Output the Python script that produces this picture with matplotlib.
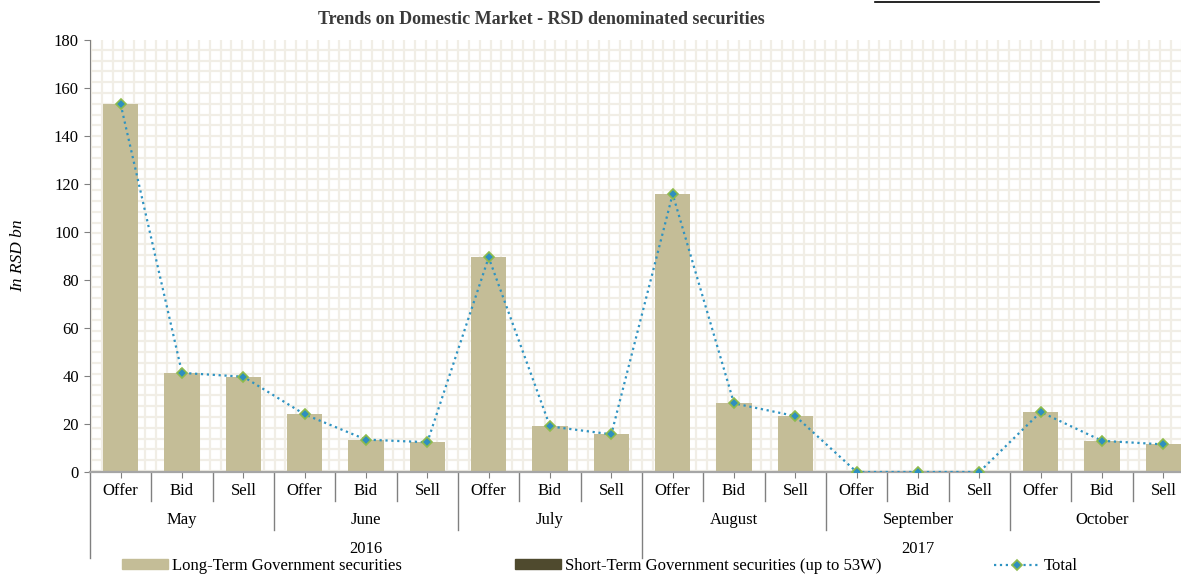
import numpy as np
import matplotlib
matplotlib.use('Agg')
import matplotlib.pyplot as plt
from matplotlib.lines import Line2D
from matplotlib.patches import Patch

plt.rcParams['font.family'] = ['Liberation Serif', 'DejaVu Serif']

kinds = ['Offer', 'Bid', 'Sell'] * 6
months = ['May', 'June', 'July', 'August', 'September', 'October']
years = ['2016', '2017']
long_term = [153.2, 41.3, 39.7, 24.0, 13.5, 12.4, 89.4, 19.0, 15.7,
             115.8, 28.6, 23.3, 0, 0, 0, 25.0, 13.0, 11.5]
short_term = [0] * 18
total = [a + b for a, b in zip(long_term, short_term)]

W, H = 1181, 575
fig = plt.figure(figsize=(W / 100, H / 100), dpi=100)
# axes runs a bit past the right edge, like the original
ax = fig.add_axes([90 / W, (H - 472) / H, 1104 / W, 432 / H])

# light checkered background
ax_w, ax_h = 1104, 432
step = 10.8
for px in np.arange(1, ax_w, step):
    ax.plot([px / ax_w] * 2, [0, 1], color='#F1EEE6', lw=1.6,
            transform=ax.transAxes, zorder=0)
for py in np.arange(1, ax_h, step):
    ax.plot([0, 1], [py / ax_h] * 2, color='#F1EEE6', lw=1.6,
            transform=ax.transAxes, zorder=0)

x = np.arange(len(kinds))
ax.bar(x, long_term, width=0.58, color='#C4BD97', zorder=2)
ax.bar(x, short_term, width=0.58, bottom=long_term, color='#4F4A2E', lw=0, zorder=2)
ax.plot(x, total, ls=':', lw=1.6, color='#2E93C2', marker='D', ms=5.5,
        mfc='#2E8FC0', mec='#8DBB4C', mew=1.2, zorder=3)

ax.set_xlim(-0.5, len(kinds) - 0.5)
ax.set_ylim(0, 180)
ax.set_yticks(range(0, 181, 20))
ax.tick_params(axis='y', labelsize=12, length=4, color='#808080', pad=4)
ax.set_xticks(x)
ax.set_xticklabels([])
ax.tick_params(axis='x', length=4, color='#808080')

for s in ['top', 'right']:
    ax.spines[s].set_visible(False)
ax.spines['left'].set_color('#808080')
ax.spines['bottom'].set_color('#A6A6A6')
ax.spines['bottom'].set_linewidth(1.6)

tr = ax.get_xaxis_transform()
pxh = 1 / ax_h
for i, k in enumerate(kinds):
    ax.text(i, -19 * pxh, k, ha='center', va='center', fontsize=12, transform=tr)
for j, m in enumerate(months):
    ax.text(3 * j + 1, -48 * pxh, m, ha='center', va='center', fontsize=12, transform=tr)
for j, yv in enumerate(years):
    ax.text(9 * j + 4, -77 * pxh, yv, ha='center', va='center', fontsize=12, transform=tr)

# separators of the multi level axis
for b in range(0, 19):
    xb = b - 0.5
    if b % 9 == 0:
        depth = 86
    elif b % 3 == 0:
        depth = 58
    else:
        depth = 29
    ax.plot([xb, xb], [0, -depth * pxh], color='#808080', lw=1,
            transform=tr, clip_on=False)

ax.set_ylabel('In RSD bn', fontsize=12.5, style='italic')
ax.yaxis.set_label_coords(-64 / ax_w, 0.5)

fig.text(541 / W, 1 - 19 / H, 'Trends on Domestic Market - RSD denominated securities',
         ha='center', va='center', fontsize=13, fontweight='bold', color='#3A3A3A')

fig.add_artist(Line2D([875 / W, 1099 / W], [1 - 1.5 / H] * 2, color='black', lw=1.2))

handles = [Patch(color='#C4BD97'), Patch(color='#4F4A2E'),
           Line2D([], [], ls=':', lw=1.6, color='#2E93C2', marker='D', ms=5.5,
                  mfc='#2E8FC0', mec='#8DBB4C', mew=1.2)]
labels = ['Long-Term Government securities',
          'Short-Term Government securities (up to 53W)', 'Total']
fig.legend(handles, labels, ncol=3, loc='center left',
           bbox_to_anchor=(122 / W, 1 - 566 / H), frameon=False, fontsize=12,
           borderpad=0, borderaxespad=0, handlelength=2.76, handleheight=0.55,
           handletextpad=0.25, columnspacing=6.75)

fig.savefig('out.png', dpi=100)
